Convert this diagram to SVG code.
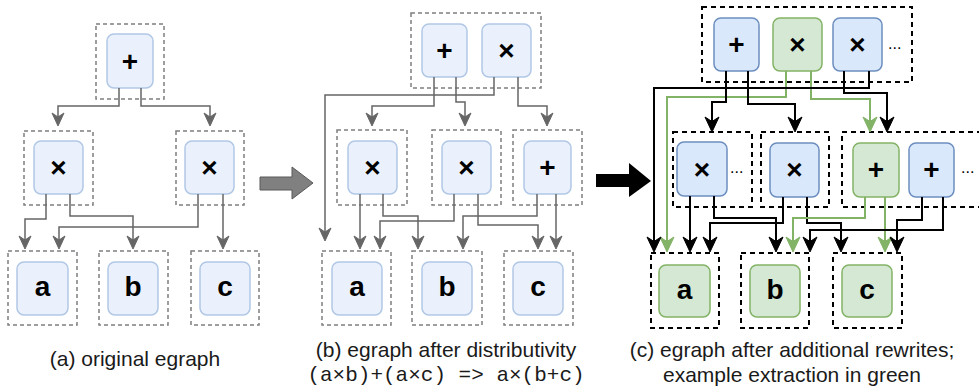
<svg xmlns="http://www.w3.org/2000/svg" width="979" height="387" viewBox="0 0 979 387">
  <style>
    .cls { fill: none; stroke: #7f7f7f; stroke-width: 1.5; stroke-dasharray: 4 3; }
    .clsk { fill: none; stroke: #000; stroke-width: 2; stroke-dasharray: 5 4; }
    .pale { fill: #eaf1fc; stroke: #b1c7e6; stroke-width: 1.5; }
    .blue { fill: #dae8fc; stroke: #6c8ebf; stroke-width: 1.5; }
    .green { fill: #d5e8d4; stroke: #82b366; stroke-width: 1.5; }
    .lbl { font-family: "Liberation Sans", Arial, sans-serif; font-weight: bold; font-size: 28px; text-anchor: middle; fill: #000; }
    .dots { font-family: "Liberation Sans", Arial, sans-serif; font-size: 16px; fill: #000; }
    .cap { font-family: "Liberation Sans", Arial, sans-serif; font-size: 21px; text-anchor: middle; fill: #1a1a1a; }
    .mono { font-family: "Liberation Mono", "Courier New", monospace; font-size: 21px; text-anchor: middle; fill: #1a1a1a; }
    .eg { fill: none; stroke: #666; stroke-width: 1.5; marker-end: url(#ahGray); }
    .ek { fill: none; stroke: #000; stroke-width: 2; marker-end: url(#ahBlack); }
    .eG { fill: none; stroke: #82b366; stroke-width: 2; marker-end: url(#ahGreen); }
  </style>
  <defs>
    <marker id="ahGray" markerUnits="userSpaceOnUse" markerWidth="14" markerHeight="13" refX="9" refY="6" orient="auto" overflow="visible">
      <path d="M0,0 L13,6 L0,12 L4,6 Z" fill="#666" stroke="#666" stroke-width="1"/>
    </marker>
    <marker id="ahBlack" markerUnits="userSpaceOnUse" markerWidth="16" markerHeight="15" refX="11" refY="7" orient="auto" overflow="visible">
      <path d="M0,0 L15,7 L0,14 L4.5,7 Z" fill="#000" stroke="#000" stroke-width="1"/>
    </marker>
    <marker id="ahGreen" markerUnits="userSpaceOnUse" markerWidth="16" markerHeight="15" refX="11" refY="7" orient="auto" overflow="visible">
      <path d="M0,0 L15,7 L0,14 L4.5,7 Z" fill="#82b366" stroke="#82b366" stroke-width="1"/>
    </marker>
  </defs>

  <!-- (a) original egraph -->
  <g id="a-classes">
    <rect class="cls" x="96" y="24" width="68" height="75"/>
    <rect class="cls" x="24" y="131" width="69" height="74"/>
    <rect class="cls" x="176" y="131" width="68" height="74"/>
    <rect class="cls" x="8" y="251" width="69" height="74"/>
    <rect class="cls" x="99" y="251" width="69" height="74"/>
    <rect class="cls" x="191" y="251" width="68" height="74"/>
  </g>
  <g id="a-plus"><rect class="pale" x="107" y="34" width="46" height="54" rx="7"/><text class="lbl" x="130" y="70.5">+</text></g>
  <g id="a-mul1"><rect class="pale" x="34" y="141" width="49" height="53" rx="7"/><text class="lbl" x="58.5" y="177">×</text></g>
  <g id="a-mul2"><rect class="pale" x="185" y="141" width="49" height="53" rx="7"/><text class="lbl" x="209.5" y="177">×</text></g>
  <g id="a-a"><rect class="pale" x="17" y="262" width="51" height="53" rx="7"/><text class="lbl" x="42.5" y="296">a</text></g>
  <g id="a-b"><rect class="pale" x="108" y="262" width="50" height="53" rx="7"/><text class="lbl" x="133" y="296">b</text></g>
  <g id="a-c"><rect class="pale" x="200" y="262" width="50" height="53" rx="7"/><text class="lbl" x="225" y="296">c</text></g>
  <g id="a-edges">
    <path class="eg" d="M119,88 V106 H58 V122"/>
    <path class="eg" d="M141,88 V106 H210 V122"/>
    <path class="eg" d="M46,194 V219 H25 V245"/>
    <path class="eg" d="M70,194 V216 H133 V245"/>
    <path class="eg" d="M198,194 V227 H59 V245"/>
    <path class="eg" d="M223,194 V245"/>
  </g>

  <!-- step arrow a -> b -->
  <g id="step-ab">
    <polygon points="260,177 292,177 292,167 313,183 292,199 292,190 260,190" fill="#808080" stroke="#595959" stroke-width="1"/>
  </g>

  <!-- (b) after distributivity -->
  <g id="b-classes">
    <rect class="cls" x="411" y="13" width="130" height="75"/>
    <rect class="cls" x="337" y="130" width="70" height="75"/>
    <rect class="cls" x="432" y="130" width="69" height="75"/>
    <rect class="cls" x="513" y="130" width="69" height="75"/>
    <rect class="cls" x="322" y="251" width="69" height="74"/>
    <rect class="cls" x="412" y="251" width="70" height="74"/>
    <rect class="cls" x="504" y="251" width="69" height="74"/>
  </g>
  <g id="b-plus"><rect class="pale" x="422" y="24" width="45" height="53" rx="7"/><text class="lbl" x="444.5" y="60">+</text></g>
  <g id="b-mul-top"><rect class="pale" x="482" y="24" width="49" height="53" rx="7"/><text class="lbl" x="506.5" y="60">×</text></g>
  <g id="b-mul1"><rect class="pale" x="348" y="141" width="49" height="53" rx="7"/><text class="lbl" x="372.5" y="177">×</text></g>
  <g id="b-mul2"><rect class="pale" x="442" y="141" width="49" height="53" rx="7"/><text class="lbl" x="466.5" y="177">×</text></g>
  <g id="b-plus2"><rect class="pale" x="524" y="141" width="47" height="53" rx="7"/><text class="lbl" x="547.5" y="177">+</text></g>
  <g id="b-a"><rect class="pale" x="332" y="262" width="50" height="53" rx="7"/><text class="lbl" x="357" y="296">a</text></g>
  <g id="b-b"><rect class="pale" x="422" y="262" width="50" height="53" rx="7"/><text class="lbl" x="447" y="296">b</text></g>
  <g id="b-c"><rect class="pale" x="513" y="262" width="50" height="53" rx="7"/><text class="lbl" x="538" y="296">c</text></g>
  <g id="b-edges">
    <path class="eg" d="M434,77 V106 H372 V122"/>
    <path class="eg" d="M456,77 V102 H465 V122"/>
    <path class="eg" d="M494,77 V95 H325 V237"/>
    <path class="eg" d="M518,77 V106 H547 V122"/>
    <path class="eg" d="M360,194 V245"/>
    <path class="eg" d="M383,194 V216 H418 V245"/>
    <path class="eg" d="M454,194 V221 H380 V245"/>
    <path class="eg" d="M478,194 V225 H538 V245"/>
    <path class="eg" d="M537,194 V216 H463 V245"/>
    <path class="eg" d="M556,194 V245"/>
  </g>

  <!-- step arrow b -> c -->
  <g id="step-bc">
    <polygon points="596,174 629,174 629,163 651,181 629,197 629,187 596,187" fill="#000"/>
  </g>

  <!-- (c) after additional rewrites -->
  <g id="c-classes">
    <rect class="clsk" x="702" y="7" width="210" height="75"/>
    <rect class="clsk" x="673" y="132" width="79" height="75"/>
    <rect class="clsk" x="761" y="132" width="68" height="75"/>
    <rect class="clsk" x="842" y="132" width="150" height="75"/>
    <rect class="clsk" x="651" y="253" width="68" height="75"/>
    <rect class="clsk" x="741" y="253" width="68" height="75"/>
    <rect class="clsk" x="833" y="253" width="69" height="75"/>
  </g>
  <g id="c-plus"><rect class="blue" x="714" y="18" width="45" height="53" rx="7"/><text class="lbl" x="736.5" y="54">+</text></g>
  <g id="c-mul-green"><rect class="green" x="773" y="18" width="49" height="53" rx="7"/><text class="lbl" x="797.5" y="54">×</text></g>
  <g id="c-mul-top"><rect class="blue" x="833" y="18" width="49" height="53" rx="7"/><text class="lbl" x="857.5" y="54">×</text></g>
  <text class="dots" x="888" y="49">...</text>
  <g id="c-mul1"><rect class="blue" x="677" y="142" width="50" height="54" rx="7"/><text class="lbl" x="702" y="178.5">×</text></g>
  <text class="dots" x="730" y="173">...</text>
  <g id="c-mul2"><rect class="blue" x="770" y="143" width="49" height="54" rx="7"/><text class="lbl" x="794.5" y="179">×</text></g>
  <g id="c-plus-green"><rect class="green" x="853" y="143" width="46" height="54" rx="7"/><text class="lbl" x="876" y="179">+</text></g>
  <g id="c-plus2"><rect class="blue" x="909" y="143" width="45" height="54" rx="7"/><text class="lbl" x="931.5" y="179">+</text></g>
  <text class="dots" x="961" y="173">...</text>
  <g id="c-a"><rect class="green" x="659" y="265" width="51" height="52" rx="7"/><text class="lbl" x="684.5" y="298.5">a</text></g>
  <g id="c-b"><rect class="green" x="750" y="265" width="50" height="52" rx="7"/><text class="lbl" x="775" y="298.5">b</text></g>
  <g id="c-c"><rect class="green" x="842" y="265" width="50" height="52" rx="7"/><text class="lbl" x="867" y="298.5">c</text></g>
  <g id="c-edges">
    <path class="eG" d="M786,71 V97 H667 V248"/>
    <path class="eG" d="M811,71 V99 H870 V128"/>
    <path class="ek" d="M726,71 V102 H712 V128"/>
    <path class="ek" d="M748,71 V104 H795 V128"/>
    <path class="ek" d="M844,71 V93 H887 V128"/>
    <path class="ek" d="M869,71 V88 H654 V248"/>
    <path class="ek" d="M690,196 V248"/>
    <path class="ek" d="M714,196 V218 H776 V248"/>
    <path class="ek" d="M783,197 V223 H710 V248"/>
    <path class="ek" d="M807,197 V223 H841 V248"/>
    <path class="eG" d="M865,197 V218 H793 V248"/>
    <path class="eG" d="M885,197 V248"/>
    <path class="ek" d="M922,197 V220 H897 V248"/>
    <path class="ek" d="M943,197 V230 H810 V248"/>
  </g>

  <!-- captions -->
  <text class="cap" x="135" y="366">(a) original egraph</text>
  <text class="cap" x="446" y="357">(b) egraph after distributivity</text>
  <text class="mono" x="446" y="381">(a×b)+(a×c) =&gt; a×(b+c)</text>
  <text class="cap" x="792" y="357">(c) egraph after additional rewrites;</text>
  <text class="cap" x="792" y="382">example extraction in green</text>
</svg>
